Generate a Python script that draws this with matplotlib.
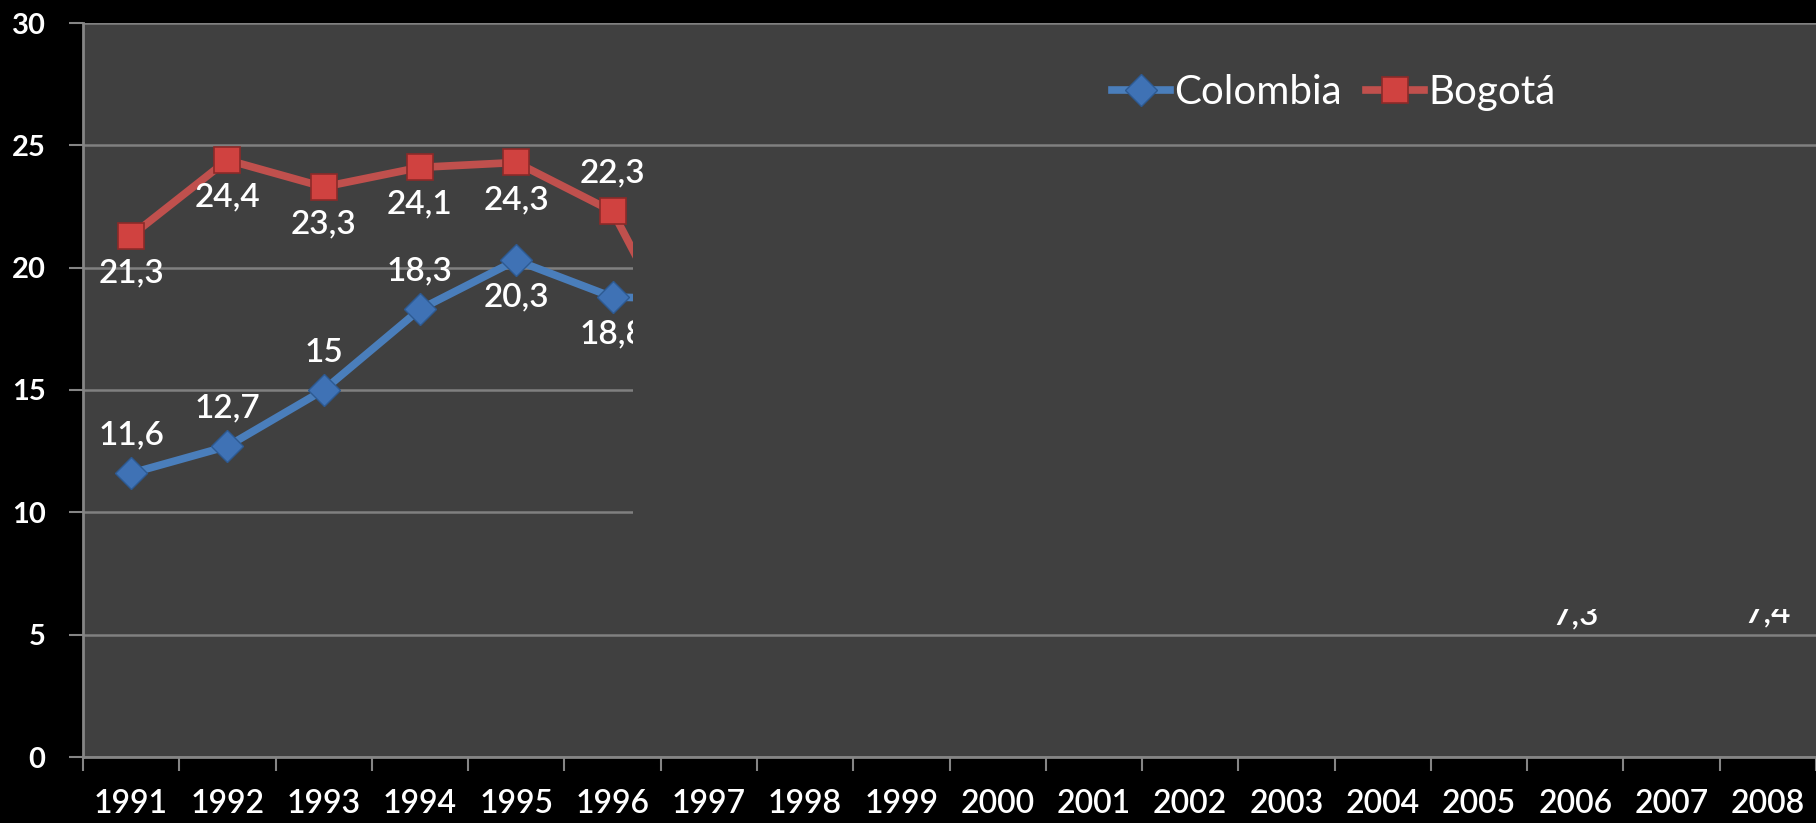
import numpy as np
import matplotlib.pyplot as plt
from matplotlib.patches import Rectangle

plt.rcParams['font.family'] = ['Lato', 'DejaVu Sans']

years = [str(y) for y in range(1991, 2009)]
nan = np.nan
# values after 1997 are hidden behind the slide overlay, only 2006/2008 labels peek out
colombia = [11.6, 12.7, 15.0, 18.3, 20.3, 18.8, 18.7,
            nan, nan, nan, nan, nan, nan, nan, nan, nan, nan, nan]
bogota = [21.3, 24.4, 23.3, 24.1, 24.3, 22.3, 14.8,
          nan, nan, nan, nan, nan, nan, nan, nan, 7.3, nan, 7.4]
colombia_side = [1, 1, 1, 1, -1, -1, -1] + [-1] * 11
bogota_side = [-1, -1, -1, -1, -1, 1, -1] + [-1] * 11

blue = '#4a7ebb'
red = '#c0504d'
bg = '#404040'
gray = '#858585'

fig = plt.figure(figsize=(18.16, 8.23), dpi=100, facecolor='black')
ax = fig.add_axes([83 / 1816, 66 / 823, 1733 / 1816, 734 / 823])
ax.set_facecolor(bg)

x = np.arange(len(years))
ax.plot(x, colombia, color=blue, lw=5.5, marker='D', ms=16, mfc='#3f72b5',
        mec='#2d5a92', mew=1, label='Colombia', zorder=3)
ax.plot(x, bogota, color=red, lw=5.5, marker='s', ms=19, mfc='#d04240',
        mec='#8c2a28', mew=1.2, label='Bogotá', zorder=3)


def fmt(v):
    return f"{v:g}".replace('.', ',')


for vals, sides in [(colombia, colombia_side), (bogota, bogota_side)]:
    for i, v in enumerate(vals):
        if np.isnan(v):
            continue
        ax.annotate(fmt(v), (i, v), xytext=(0, 27 * sides[i]), textcoords='offset points',
                    ha='center', va='center', color='white', fontsize=24,
                    fontweight='semibold', zorder=4)

# overlay box (animation mask in the original slide)
ax.add_patch(Rectangle((5.21, 6.05), 17.5 - 5.21, 23.4 - 6.05,
                       facecolor=bg, edgecolor='none', zorder=5))

ax.set_xlim(-0.5, 17.5)
ax.set_ylim(0, 30)
ax.set_yticks(range(0, 31, 5))
ax.yaxis.grid(True, color='#808080', lw=1.8)
ax.set_axisbelow(True)

ax.set_xticks(x)
ax.set_xticklabels(years, fontweight='semibold')
ax.set_yticks(range(0, 31, 5))
ax.set_yticklabels([str(v) for v in range(0, 31, 5)], fontweight='bold')
ax.set_xticks(np.arange(-0.5, 17.6, 1), minor=True)
ax.tick_params(axis='x', which='major', length=0, pad=23, labelcolor='white', labelsize=23)
ax.tick_params(axis='x', which='minor', length=10, width=1.5, color=gray)
ax.tick_params(axis='y', length=10, width=1.5, color=gray, pad=17, labelcolor='white', labelsize=21)

for s in ['top', 'right']:
    ax.spines[s].set_visible(False)
for s in ['left', 'bottom']:
    ax.spines[s].set_color(gray)
    ax.spines[s].set_linewidth(2)

leg = ax.legend(loc='center left', bbox_to_anchor=(0.582, 0.905), ncol=2, frameon=False,
                fontsize=29, labelcolor='white', handlelength=1.45, handletextpad=0.1,
                columnspacing=0.6, borderpad=0)
leg.set_zorder(10)

plt.savefig('out.png', dpi=100, facecolor='black')
